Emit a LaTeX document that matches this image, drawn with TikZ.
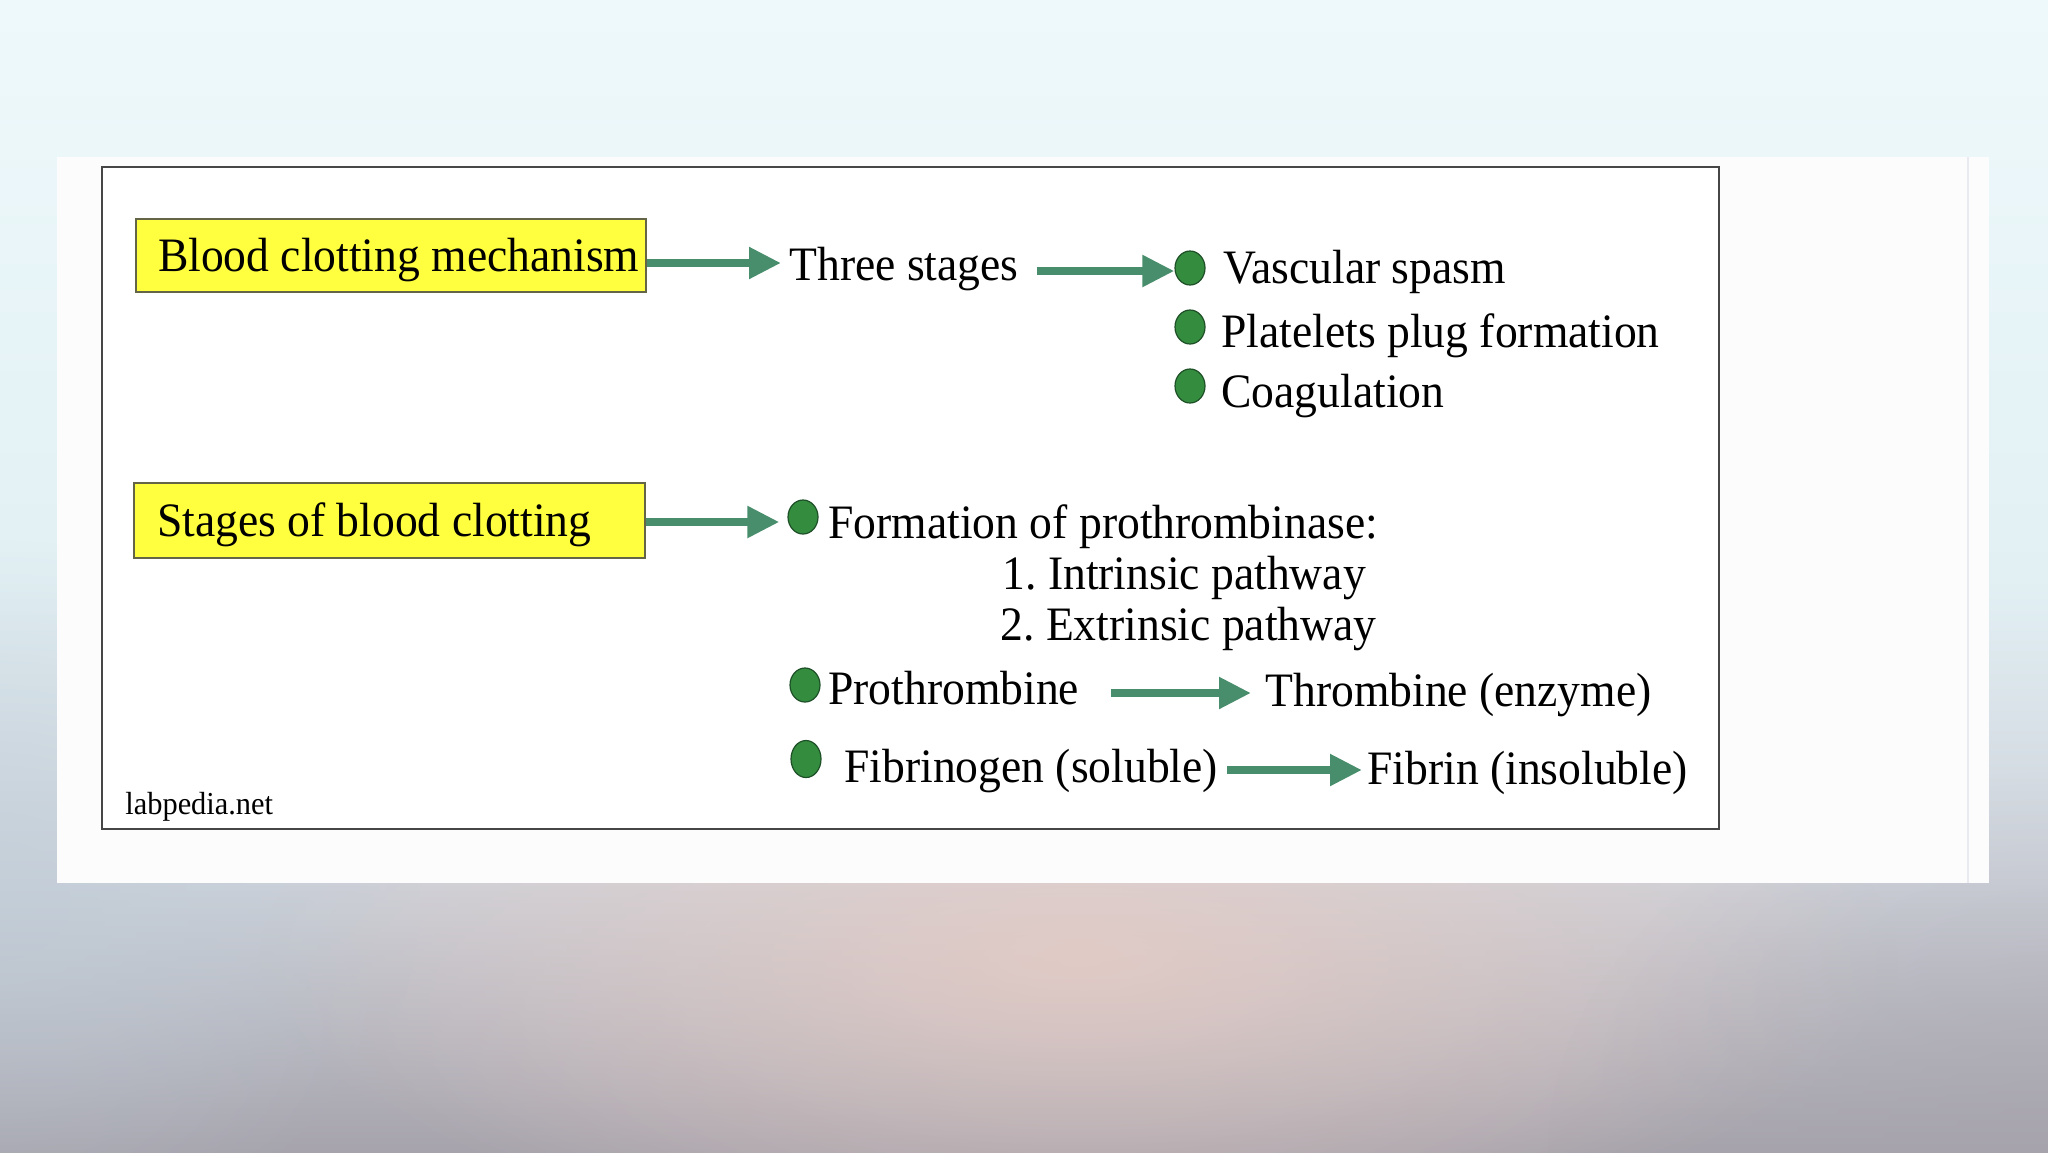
\documentclass[tikz,border=0pt]{standalone}
\usepackage{fontspec}
\setmainfont[FakeStretch=0.95]{Liberation Serif}
\usetikzlibrary{arrows.meta,shapes.geometric,fadings}
\definecolor{arrowgreen}{RGB}{72,142,108}
\definecolor{dotgreen}{RGB}{52,140,62}
\definecolor{dotedge}{RGB}{30,80,40}
\definecolor{boxyellow}{RGB}{255,255,64}
\definecolor{boxedge}{RGB}{100,100,70}
\definecolor{framegray}{RGB}{70,70,70}
\definecolor{panelwhite}{RGB}{252,252,253}
\definecolor{panelline}{RGB}{232,234,240}
\definecolor{bgtop}{RGB}{238,249,251}
\definecolor{bgmid}{RGB}{226,240,244}
\definecolor{bgmidb}{RGB}{206,210,218}
\definecolor{bgbot}{RGB}{166,163,172}
\definecolor{pinkc}{RGB}{232,204,196}
\definecolor{bluec}{RGB}{190,205,216}
\pgfdeclareverticalshading{bgv}{100bp}{color(0bp)=(bgbot); color(25bp)=(bgbot); color(37bp)=(bgmidb); color(50bp)=(bgmid); color(75bp)=(bgtop); color(100bp)=(bgtop)}
\tikzfading[name=softfade, inner color=transparent!0, outer color=transparent!100]
\begin{document}
\frenchspacing
\begin{tikzpicture}[x=0.5pt,y=-0.5pt,
  lbl/.style={anchor=base west, inner sep=0pt, font=\fontsize{24}{28}\selectfont},
  ybox/.style={draw=boxedge, line width=1pt, fill=boxyellow, anchor=north west,
    inner xsep=11pt, inner ysep=0pt, minimum height=36.5pt,
    text height=17.5pt, text depth=2pt, font=\fontsize{24}{28}\selectfont},
  gdot/.style={ellipse, draw=dotedge, line width=0.6pt, fill=dotgreen,
    minimum width=15pt, minimum height=17pt, inner sep=0pt},
  garrow/.style={draw=arrowgreen, line width=4pt, -{Triangle[length=16pt,width=15pt]}}]
\useasboundingbox (0,0) rectangle (2048,1152);
% background
\shade[shading=bgv] (0,0) rectangle (2048,1152);
\fill[pinkc, fill opacity=0.8, path fading=softfade]
  (1080,960) ellipse [x radius=820, y radius=300];
\fill[bluec, fill opacity=0.6, path fading=softfade]
  (0,900) ellipse [x radius=420, y radius=360];
\fill[bgbot, fill opacity=0.5, path fading=softfade]
  (2048,1152) ellipse [x radius=500, y radius=380];
% panel and frame
\fill[panelwhite] (57,157) rectangle (1989,883);
\draw[panelline, line width=1pt] (1968,157) -- (1968,883);
\draw[framegray, line width=1pt, fill=white] (102,167) rectangle (1719,829);
% boxes
\node[ybox] (b1) at (135,218) {\makebox[233pt][l]{Blood clotting mechanism}};
\node[ybox, inner xsep=11.5pt, minimum height=37.5pt] (b2) at (133,482)
  {\makebox[232.5pt][l]{Stages of blood clotting}};
% upper branch
\node[lbl] (three) at (789,280) {Three stages};
\node[gdot] (v1) at (1190,268) {};
\node[gdot] (v2) at (1190,327) {};
\node[gdot] (v3) at (1190,386) {};
\node[lbl] (vasc) at (1223,283) {Vascular spasm};
\node[lbl] (plate) at (1221,347) {Platelets plug formation};
\node[lbl] (coag) at (1221,407) {Coagulation};
% lower branch
\node[gdot] (f1) at (803,517) {};
\node[lbl] (form) at (828,538) {Formation of prothrombinase:};
\node[lbl] (intr) at (1002,589) {1. Intrinsic pathway};
\node[lbl] (extr) at (1000,640) {2. Extrinsic pathway};
\node[gdot] (p1) at (805,685) {};
\node[lbl] (proth) at (828,704) {Prothrombine};
\node[lbl] (thromb) at (1265,706) {Thrombine (enzyme)};
\node[gdot, minimum height=18.5pt] (fb1) at (806,759) {};
\node[lbl] (fibg) at (844,782) {Fibrinogen (soluble)};
\node[lbl] (fibr) at (1367,784) {Fibrin (insoluble)};
\node[anchor=base west, inner sep=0pt, font=\fontsize{16}{19}\selectfont] (lab) at (125,814) {labpedia.net};
% arrows
\draw[garrow, shorten >=4pt] (b1.east |- 0,263) -- (three.west |- 0,263);
\draw[garrow, shorten <=9pt] (three.east |- 0,271) -- (v1.west |- 0,271);
\draw[garrow, shorten >=4pt] (b2.east |- 0,522) -- (f1.west |- 0,522);
\draw[garrow, shorten <=15.5pt, shorten >=7pt] (proth.east |- 0,693) -- (thromb.west |- 0,693);
\draw[garrow, shorten <=4.5pt, shorten >=2.5pt] (fibg.east |- 0,770) -- (fibr.west |- 0,770);
\end{tikzpicture}
\end{document}
